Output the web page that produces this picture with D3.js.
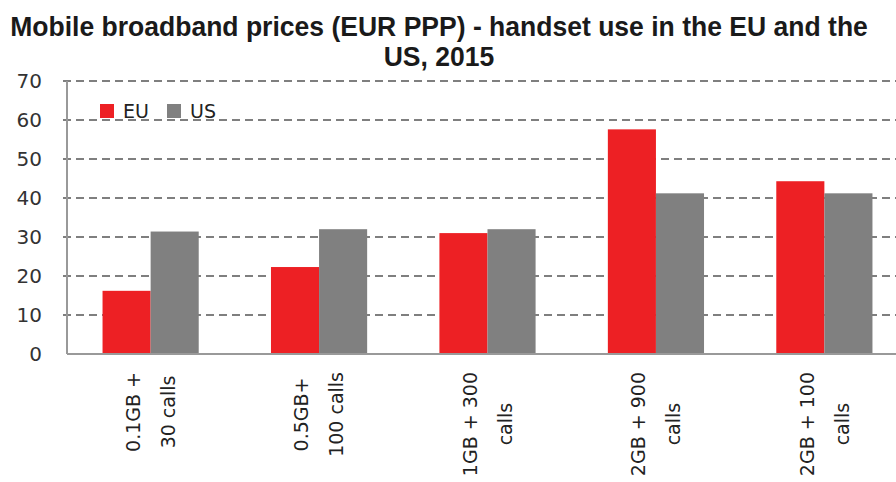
<!DOCTYPE html>
<html>
<head>
<meta charset="utf-8">
<script src="https://cdn.jsdelivr.net/npm/d3@7"></script>
<style>
  body { margin: 0; background: #fff; }
  svg { display: block; }
</style>
</head>
<body>
<script>
// data
var categories = [["0.1GB +", "30 calls"], ["0.5GB+", "100 calls"], ["1GB + 300", "calls"], ["2GB + 900", "calls"], ["2GB + 100", "calls"]];
var seriesNames = ["EU", "US"];
var euValues = [16.2, 22.3, 31.0, 57.6, 44.3];
var usValues = [31.4, 32.0, 32.0, 41.2, 41.2];
var yTicks = [0, 10, 20, 30, 40, 50, 60, 70];
var colors = ["#ED2024", "#808080"];

var W = 896, H = 482;
var plotLeft = 67, plotRight = 908, plotTop = 81, plotBottom = 354;

var svg = d3.select("body").append("svg")
    .attr("width", W)
    .attr("height", H);

// title (condensed look: squeeze horizontally)
var titleG = svg.append("g");
var title = titleG.append("text")
    .attr("text-anchor", "middle")
    .attr("font-family", "'Liberation Sans', Arial, sans-serif")
    .attr("font-weight", "bold")
    .attr("font-size", 28)
    .attr("fill", "#1a1a1a");
var t1 = title.append("tspan").attr("x", 0).attr("y", 36)
    .text("Mobile broadband prices (EUR  PPP) - handset use in the EU and the");
title.append("tspan").attr("x", 0).attr("y", 66)
    .text("US, 2015");
var w1 = t1.node().getComputedTextLength();
titleG.attr("transform", "translate(439,0) scale(" + (858 / w1) + ",1)");

var x0 = d3.scaleBand()
    .domain(d3.range(categories.length))
    .range([plotLeft, plotRight])
    .paddingInner(0.429)
    .paddingOuter(0.211);

var x1 = d3.scaleBand()
    .domain(seriesNames)
    .range([0, x0.bandwidth()]);

var y = d3.scaleLinear()
    .domain([0, 70])
    .range([plotBottom, plotTop]);

// gridlines
svg.append("g")
    .selectAll("line")
    .data(yTicks.slice(1))
    .enter()
    .append("line")
    .attr("x1", plotLeft - 4)
    .attr("x2", W)
    .attr("y1", function(d) { return y(d); })
    .attr("y2", function(d) { return y(d); })
    .attr("stroke", "#555")
    .attr("stroke-width", 1.5)
    .attr("stroke-dasharray", "8,5");

// y tick labels
svg.append("g")
    .selectAll("text")
    .data(yTicks)
    .enter()
    .append("text")
    .attr("x", 42)
    .attr("y", function(d) { return y(d); })
    .attr("dy", "0.36em")
    .attr("text-anchor", "end")
    .attr("font-family", "'DejaVu Sans', Verdana, sans-serif")
    .attr("font-size", 20)
    .attr("fill", "#333")
    .text(function(d) { return d; });

// bars
var rows = categories.map(function(c, i) {
    return { i: i, values: [euValues[i], usValues[i]] };
});

var groups = svg.append("g")
    .selectAll("g")
    .data(rows)
    .enter()
    .append("g")
    .attr("transform", function(d) { return "translate(" + x0(d.i) + ",0)"; });

groups.selectAll("rect")
    .data(function(d) {
        return d.values.map(function(v, k) { return { name: seriesNames[k], value: v, k: k }; });
    })
    .enter()
    .append("rect")
    .attr("x", function(d) { return x1(d.name); })
    .attr("y", function(d) { return y(d.value); })
    .attr("width", x1.bandwidth())
    .attr("height", function(d) { return y(0) - y(d.value); })
    .attr("fill", function(d) { return colors[d.k]; });

// axis lines
svg.append("line")
    .attr("x1", plotLeft).attr("x2", plotLeft)
    .attr("y1", plotTop).attr("y2", plotBottom)
    .attr("stroke", "#999").attr("stroke-width", 2);
svg.append("line")
    .attr("x1", plotLeft).attr("x2", W)
    .attr("y1", plotBottom).attr("y2", plotBottom)
    .attr("stroke", "#999").attr("stroke-width", 2);

// x labels, rotated, lines centred within the block
var labelTop = 372;
categories.forEach(function(lines, i) {
    var cx = x0(i) + x0.bandwidth() / 2;
    var g = svg.append("g")
        .attr("transform", "translate(" + cx + "," + labelTop + ") rotate(-90)");
    var texts = lines.map(function(s, j) {
        return g.append("text")
            .attr("text-anchor", "middle")
            .attr("font-family", "'DejaVu Sans', Verdana, sans-serif")
            .attr("font-size", 19)
            .attr("fill", "#222")
            .attr("y", (j - (lines.length - 1) / 2) * 35)
            .attr("dy", "0.36em")
            .text(s);
    });
    var maxLen = d3.max(texts, function(t) { return t.node().getComputedTextLength(); });
    texts.forEach(function(t) { t.attr("x", -maxLen / 2); });
});

// legend
var legend = svg.append("g");
var legendX = [100, 167];
seriesNames.forEach(function(name, k) {
    legend.append("rect")
        .attr("x", legendX[k])
        .attr("y", 104)
        .attr("width", 14)
        .attr("height", 14)
        .attr("fill", colors[k]);
    legend.append("text")
        .attr("x", legendX[k] + 23)
        .attr("y", 118)
        .attr("font-family", "'DejaVu Sans', Verdana, sans-serif")
        .attr("font-size", 19)
        .attr("fill", "#222")
        .text(name);
});
</script>
</body>
</html>
